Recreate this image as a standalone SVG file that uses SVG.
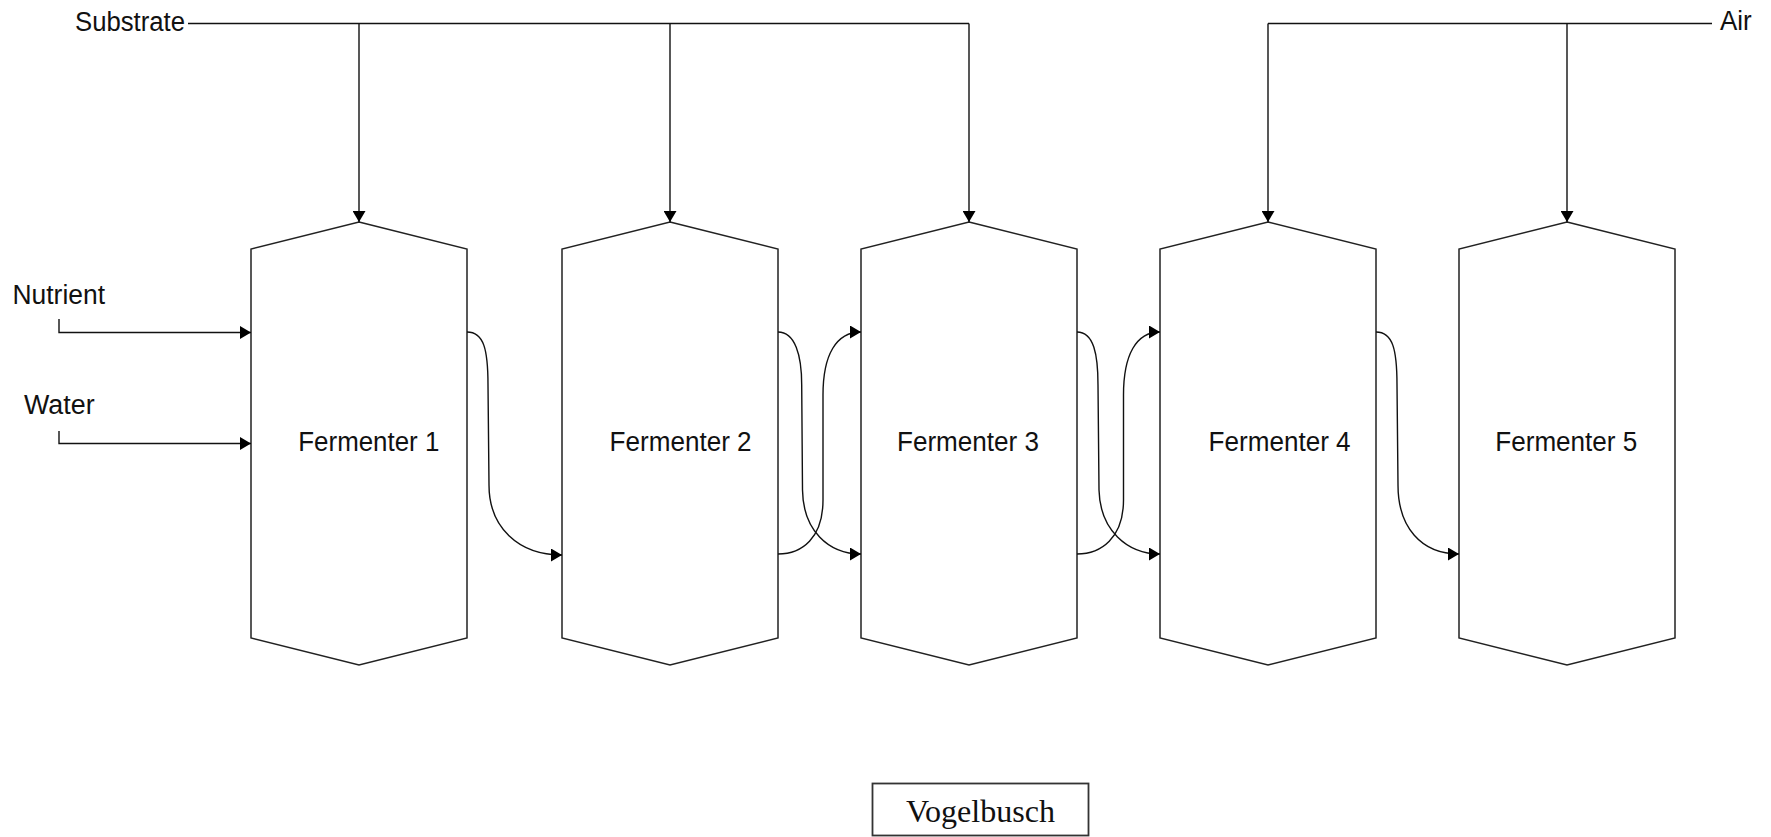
<svg xmlns="http://www.w3.org/2000/svg" width="1771" height="837" viewBox="0 0 1771 837">
<style>
.lbl{font-family:"Liberation Sans",Arial,sans-serif;font-size:27px;fill:#111}
.vessel{fill:#fff;stroke:#222;stroke-width:1.5}
.conn path{fill:none;stroke:#111;stroke-width:1.4}
.title{font-family:"Liberation Serif","Times New Roman",serif;font-size:32px;fill:#111}
</style>
<defs>
<marker id="arr" markerUnits="userSpaceOnUse" viewBox="0 0 11 13" refX="11" refY="6.5" markerWidth="11" markerHeight="13" orient="auto">
<path d="M0,0 L11,6.5 L0,13 z" fill="#000"/>
</marker>
</defs>
<rect width="1771" height="837" fill="#fff"/>

<g id="fermenter1">
<polygon class="vessel" points="359,222 467,249 467,638 359,665 251,638 251,249"/>
<text class="lbl" x="298.3" y="451" textLength="141" lengthAdjust="spacingAndGlyphs">Fermenter 1</text>
</g>
<g id="fermenter2">
<polygon class="vessel" points="670,222 778,249 778,638 670,665 562,638 562,249"/>
<text class="lbl" x="609.6" y="451" textLength="142" lengthAdjust="spacingAndGlyphs">Fermenter 2</text>
</g>
<g id="fermenter3">
<polygon class="vessel" points="969,222 1077,249 1077,638 969,665 861,638 861,249"/>
<text class="lbl" x="897" y="451" textLength="142" lengthAdjust="spacingAndGlyphs">Fermenter 3</text>
</g>
<g id="fermenter4">
<polygon class="vessel" points="1268,222 1376,249 1376,638 1268,665 1160,638 1160,249"/>
<text class="lbl" x="1208.6" y="451" textLength="142" lengthAdjust="spacingAndGlyphs">Fermenter 4</text>
</g>
<g id="fermenter5">
<polygon class="vessel" points="1567,222 1675,249 1675,638 1567,665 1459,638 1459,249"/>
<text class="lbl" x="1495.3" y="451" textLength="142" lengthAdjust="spacingAndGlyphs">Fermenter 5</text>
</g>

<g id="labels">
<text class="lbl" x="75" y="31" textLength="110" lengthAdjust="spacingAndGlyphs">Substrate</text>
<text class="lbl" x="1720" y="30" textLength="31.7" lengthAdjust="spacingAndGlyphs">Air</text>
<text class="lbl" x="12.5" y="303.5" textLength="92.5" lengthAdjust="spacingAndGlyphs">Nutrient</text>
<text class="lbl" x="24" y="414" textLength="70.6" lengthAdjust="spacingAndGlyphs">Water</text>
</g>

<g id="connectors" class="conn">
<path d="M188,23.5 L969,23.5"/>
<path d="M359,23.5 L359,222" marker-end="url(#arr)"/>
<path d="M670,23.5 L670,222" marker-end="url(#arr)"/>
<path d="M969,23.5 L969,222" marker-end="url(#arr)"/>
<path d="M1268,23.5 L1712,23.5"/>
<path d="M1268,23.5 L1268,222" marker-end="url(#arr)"/>
<path d="M1567,23.5 L1567,222" marker-end="url(#arr)"/>
<path d="M59,319 L59,332.5 L251,332.5" marker-end="url(#arr)"/>
<path d="M59,431 L59,443.5 L251,443.5" marker-end="url(#arr)"/>
<path d="M467,332 C484,332 488,350 488,385 L489,485 C489,527 518,555 562,555" marker-end="url(#arr)"/>
<path d="M778,332 C795,332 801.7,355 801.7,385 L802.5,490 C803,530 828,554 861,554" marker-end="url(#arr)"/>
<path d="M778,554 C802,554 823,538 823,500 L823,395 C823,355 836,332 861,332" marker-end="url(#arr)"/>
<path d="M1077,332 C1094,332 1098,355 1098,385 L1099,490 C1100,530 1127,554 1160,554" marker-end="url(#arr)"/>
<path d="M1077,554 C1101,554 1123.5,538 1123.5,500 L1123.5,395 C1123.5,355 1136,332 1160,332" marker-end="url(#arr)"/>
<path d="M1376,332 C1393,332 1397,350 1397,385 L1398,485 C1398,527 1421,554 1459,554" marker-end="url(#arr)"/>
</g>

<g id="vogelbusch">
<rect x="872.5" y="783.5" width="216" height="52" fill="#fff" stroke="#333" stroke-width="1.8"/>
<text class="title" x="906" y="822" textLength="149" lengthAdjust="spacingAndGlyphs">Vogelbusch</text>
</g>
</svg>
